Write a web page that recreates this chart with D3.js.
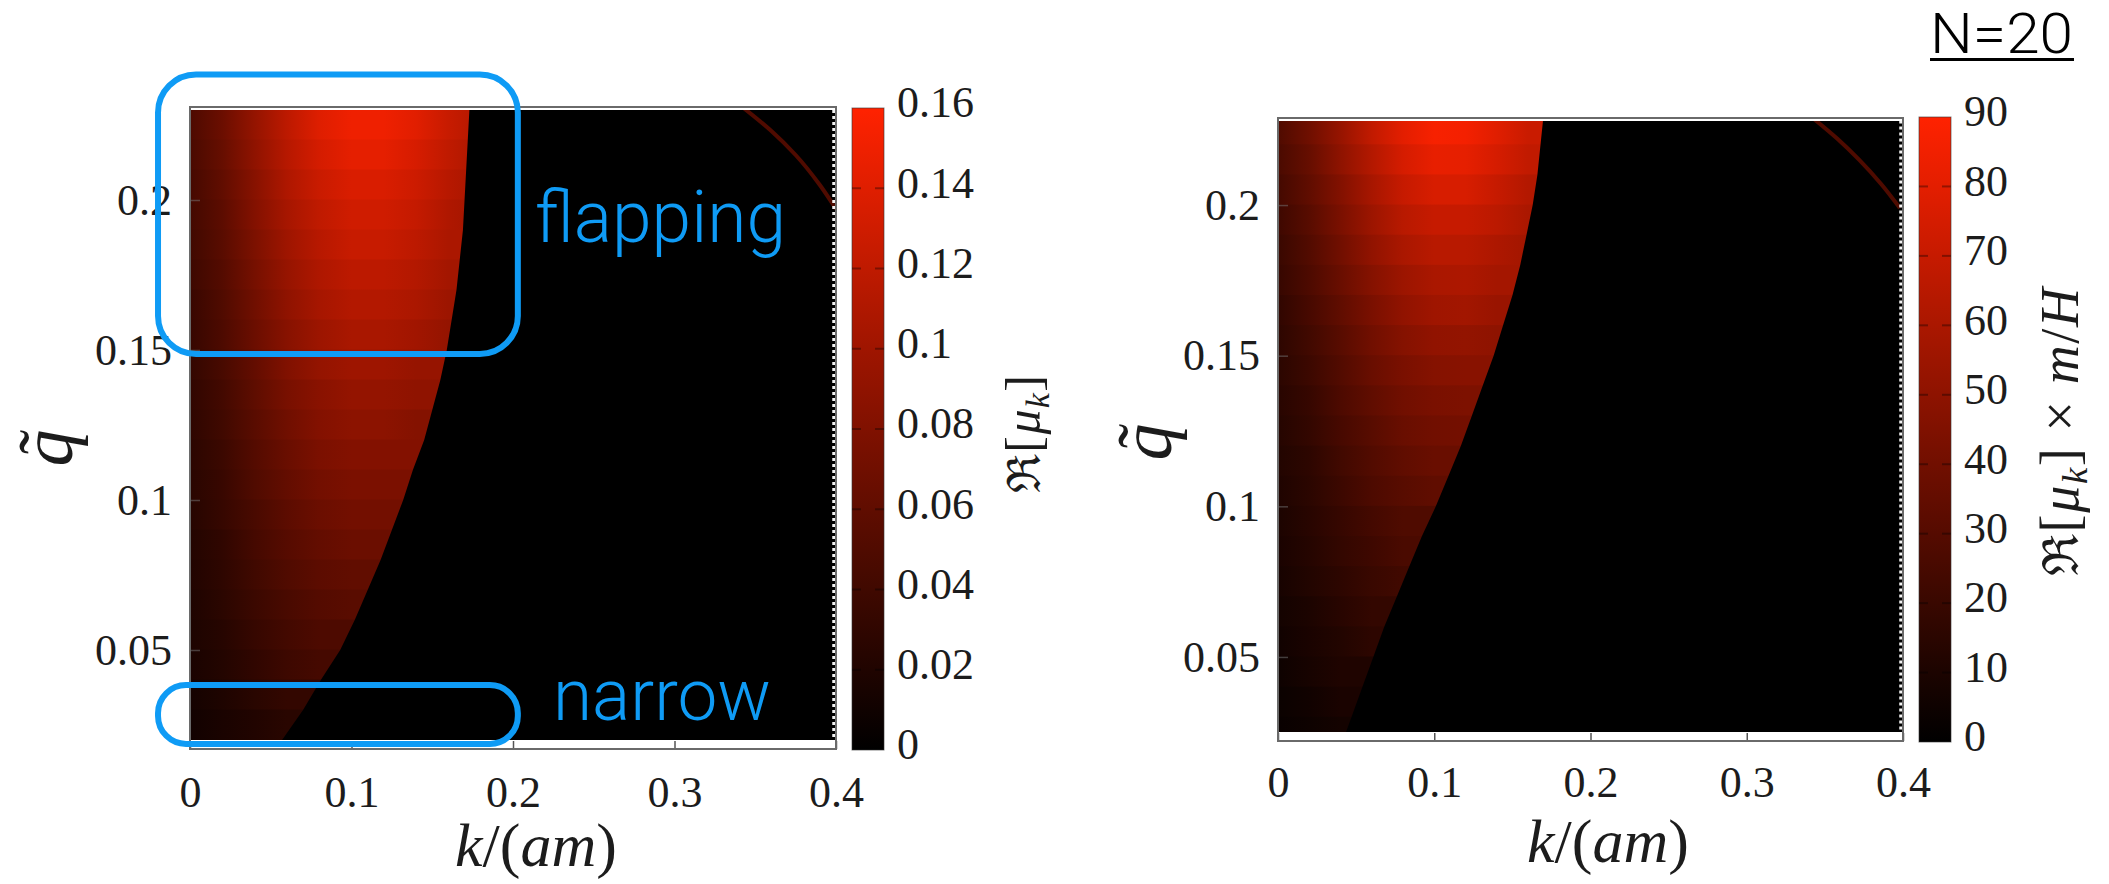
<!DOCTYPE html>
<html><head><meta charset="utf-8">
<script src="https://cdn.jsdelivr.net/npm/d3@7"></script>
<style>
html,body{margin:0;padding:0;background:#fff;}
svg{display:block;}
</style></head><body>
<svg id="chart" width="2109" height="884"></svg>
<script>
// ================= DATA =================
const kSamples = [0, 0.02, 0.04, 0.06, 0.08, 0.10, 0.12, 0.14, 0.16, 0.18];
const rowQ = [0.225,0.215,0.205,0.195,0.185,0.175,0.165,0.155,0.145,0.135,0.125,0.115,0.105,0.095,0.085,0.075,0.065,0.055,0.045,0.035,0.025];

// left panel: Re[mu_k], values at kSamples for each row (up to the edge)
const leftRows = [
  [.048,.067,.093,.118,.139,.150,.150,.141,.125,.112],
  [.046,.064,.090,.114,.133,.144,.144,.134,.120,.107],
  [.043,.061,.085,.109,.126,.136,.136,.128,.115,.104],
  [.042,.058,.082,.104,.120,.130,.130,.123,.110,.101],
  [.040,.056,.078,.099,.115,.125,.125,.118,.107],
  [.038,.053,.074,.094,.109,.118,.118,.112,.102],
  [.035,.050,.070,.090,.104,.112,.112,.107,.098],
  [.034,.048,.067,.085,.098,.106,.106,.101,.093],
  [.032,.045,.062,.080,.093,.099,.099,.094],
  [.030,.042,.059,.075,.086,.093,.093,.090],
  [.029,.040,.056,.070,.082,.088,.088,.083],
  [.027,.037,.053,.066,.077,.082,.082],
  [.026,.035,.050,.062,.072,.077,.077],
  [.024,.034,.046,.058,.067,.072,.072],
  [.022,.030,.043,.054,.062,.067],
  [.021,.029,.040,.050,.058,.061],
  [.019,.027,.037,.046,.053,.056],
  [.018,.024,.034,.042,.048],
  [.016,.022,.030,.038,.043],
  [.013,.019,.026,.032],
  [.011,.016,.021,.026]
];
// right panel: Re[mu_k] x m/H
const rightRows = [
  [28,39,53,68,80,87,86,79,71],
  [26,36,50,63,75,82,81,75,68],
  [24,34,46,59,70,76,76,70,63],
  [22,31,43,55,65,70,70,66,60],
  [20,29,40,51,60,65,65,61,57],
  [19,27,37,47,55,60,61,58],
  [17,25,34,43,51,56,57,54],
  [16,23,31,40,47,51,52,50],
  [15,21,29,37,43,47,48],
  [14,19,27,34,40,43,44],
  [13,18,25,31,37,40,41],
  [12,16,23,29,34,37],
  [11,15,21,27,31,34],
  [10,14,19,24,28],
  [9,13,18,22,26],
  [8,12,16,20,23],
  [7,10,14,18],
  [6,9,12,16],
  [5,8,11],
  [4,6,9],
  [3,5,7]
];
// boundary of the unstable region (k where the value drops to zero)
const edgeQ = [0.02,0.03,0.04,0.05,0.06,0.07,0.08,0.09,0.10,0.11,0.12,0.13,0.14,0.15,0.16,0.17,0.18,0.19,0.20,0.21,0.22,0.23];
const leftEdgeK  = [0.057,0.070,0.081,0.093,0.102,0.110,0.118,0.125,0.132,0.138,0.145,0.150,0.155,0.159,0.162,0.165,0.167,0.169,0.170,0.171,0.172,0.173];
const rightEdgeK = [0.040,0.047,0.054,0.061,0.068,0.076,0.084,0.092,0.101,0.109,0.117,0.124,0.131,0.138,0.144,0.150,0.155,0.159,0.163,0.166,0.168,0.170];
// faint second branch in the top-right corner
const leftBranchK  = [0.342,0.360,0.375,0.390,0.400];
const leftBranchQ  = [0.231,0.223,0.215,0.205,0.197];
const rightBranchK = [0.342,0.358,0.372,0.386,0.398];
const rightBranchQ = [0.229,0.222,0.215,0.207,0.199];
const leftBranchV = 0.05, rightBranchV = 28;

const xTicks = [0, 0.1, 0.2, 0.3, 0.4];
const yTicks = [0.05, 0.1, 0.15, 0.2];
const leftCbTicks  = [0, 0.02, 0.04, 0.06, 0.08, 0.1, 0.12, 0.14, 0.16];
const rightCbTicks = [0, 10, 20, 30, 40, 50, 60, 70, 80, 90];
const leftMax = 0.16, rightMax = 90;

// annotations (in data coordinates of the left panel)
const flapBox  = {k0:-0.0198, k1:0.203, q0:0.1487, q1:0.2418};
const narrowBox= {k0:-0.0198, k1:0.203, q0:0.0187, q1:0.0383};

// ================= DRAWING =================
const svg = d3.select("#chart");
const defs = svg.append("defs");
const SERIF = "'Liberation Serif', 'Times New Roman', serif";
const BLUE = "#0f9bf5";

function styleAxisText(sel){
  sel.attr("font-family", null).attr("font-size", null);
  sel.selectAll("text").style("font-family", SERIF).style("font-size", "44px").attr("fill", "#1c1c1c");
}

function panel(o){
  const g = svg.append("g");
  const x = d3.scaleLinear().domain([0, 0.4]).range([o.fx0, o.fx1]);
  const y = d3.scaleLinear().domain(o.qDomain).range([o.fy1, o.fy0]);
  const color = d3.scaleLinear().domain([0, o.vmax]).range(["#000000", "#ff2200"]).interpolate(d3.interpolateRgb);

  const clipId = o.id + "clip";
  defs.append("clipPath").attr("id", clipId).append("rect")
    .attr("x", x(0)).attr("y", y(o.dataQ[1]))
    .attr("width", x(0.4) - x(0)).attr("height", y(o.dataQ[0]) - y(o.dataQ[1]));
  const dg = g.append("g").attr("clip-path", `url(#${clipId})`);
  dg.append("rect").attr("x", x(0)).attr("y", y(0.25)).attr("width", x(0.4)-x(0)).attr("height", y(0)-y(0.25)).attr("fill", "#000");

  const half = Math.abs(rowQ[0] - rowQ[1]) / 2;
  rowQ.forEach((q, i) => {
    const vals = o.rows[i];
    const ks = kSamples.slice(0, vals.length);
    const gid = o.id + "row" + i;
    const x1 = x(ks[0]), x2 = x(ks[ks.length - 1]);
    const grad = defs.append("linearGradient").attr("id", gid)
      .attr("gradientUnits", "userSpaceOnUse")
      .attr("x1", x1).attr("x2", x2).attr("y1", 0).attr("y2", 0);
    vals.forEach((v, j) => {
      grad.append("stop").attr("offset", (x(ks[j]) - x1) / (x2 - x1)).attr("stop-color", color(v));
    });
    dg.append("rect").attr("x", x(0)).attr("y", y(q + half) - 0.5)
      .attr("width", x(0.4) - x(0)).attr("height", y(q - half) - y(q + half) + 1)
      .attr("fill", `url(#${gid})`);
  });

  // black area beyond the boundary
  const pts = edgeQ.map((q, i) => [x(o.edgeK[i]), y(q)]);
  const bot = [x(o.edgeK[0]), y(0)];
  const top = [x(o.edgeK[o.edgeK.length-1]), y(0.25)];
  const poly = [bot, ...pts, top, [x(0.42), y(0.25)], [x(0.42), y(0)]];
  dg.append("path").attr("d", "M" + poly.map(p => p.join(",")).join("L") + "Z").attr("fill", "#000");

  // faint branch
  dg.append("path")
    .attr("d", d3.line().curve(d3.curveMonotoneY)(o.branchK.map((k, i) => [x(k), y(o.branchQ[i])])))
    .attr("fill", "none").attr("stroke", color(o.branchV)).attr("stroke-width", 4);

  // jagged white right edge
  dg.append("line").attr("x1", x(0.4) - 2).attr("x2", x(0.4) - 2)
    .attr("y1", y(0.25)).attr("y2", y(0))
    .attr("stroke", "#f4f4f4").attr("stroke-width", 3.5).attr("stroke-dasharray", "3 3");

  // axes
  const xAxis = d3.axisBottom(x).tickValues(xTicks).tickSize(-8).tickPadding(o.xPad).tickFormat(d3.format("~g"));
  const xg = g.append("g").attr("transform", `translate(0,${o.fy1})`).call(xAxis);
  xg.select(".domain").remove();
  xg.selectAll("line").attr("stroke", "#555").attr("stroke-width", 1.5);
  styleAxisText(xg);

  const yAxis = d3.axisLeft(y).tickValues(yTicks).tickSize(-10).tickPadding(18).tickFormat(d3.format("~g"));
  const yg = g.append("g").attr("transform", `translate(${o.fx0},0)`).call(yAxis);
  yg.select(".domain").remove();
  yg.selectAll("line").attr("stroke", "#777").attr("stroke-opacity", 0.5).attr("stroke-width", 1.5);
  styleAxisText(yg);

  // frame
  g.append("rect").attr("x", o.fx0).attr("y", o.fy0).attr("width", o.fx1 - o.fx0).attr("height", o.fy1 - o.fy0)
    .attr("fill", "none").attr("stroke", "#6a6a6a").attr("stroke-width", 2);

  // colorbar
  const cbY = d3.scaleLinear().domain([0, o.vmax]).range([o.cbY1, o.cbY0]);
  const cgid = o.id + "cb";
  const cgr = defs.append("linearGradient").attr("id", cgid).attr("x1", 0).attr("x2", 0).attr("y1", 1).attr("y2", 0);
  o.cbTicks.forEach(t => cgr.append("stop").attr("offset", t / o.vmax).attr("stop-color", color(t)));
  g.append("rect").attr("x", o.cbX).attr("y", o.cbY0).attr("width", o.cbW).attr("height", o.cbY1 - o.cbY0)
    .attr("fill", `url(#${cgid})`).attr("stroke", "#333").attr("stroke-opacity", 0.6).attr("stroke-width", 1);
  o.cbTicks.slice(1, -1).forEach(t => {
    [[o.cbX, o.cbX + 9], [o.cbX + o.cbW - 9, o.cbX + o.cbW]].forEach(([a, b]) => {
      g.append("line").attr("x1", a).attr("x2", b).attr("y1", cbY(t)).attr("y2", cbY(t))
        .attr("stroke", "#000").attr("stroke-opacity", 0.35).attr("stroke-width", 2);
    });
  });
  const cbAxis = d3.axisRight(cbY).tickValues(o.cbTicks).tickSize(0).tickPadding(13).tickFormat(d3.format("~g"));
  const cbg = g.append("g").attr("transform", `translate(${o.cbX + o.cbW},0)`).call(cbAxis);
  cbg.select(".domain").remove();
  styleAxisText(cbg);
  cbg.selectAll("text").attr("dy", "0.2em");

  // colorbar label
  const t = g.append("text").attr("transform", `translate(${o.cbLabX},${o.cbLabY}) rotate(-90)`)
    .attr("text-anchor", "middle").style("font-family", SERIF).attr("font-size", o.cbLabSize).attr("fill", "#1c1c1c")
    .attr("textLength", o.cbLabLen).attr("lengthAdjust", "spacing");
  t.append("tspan").style("font-family", "'DejaVu Serif', serif").attr("font-size", o.cbLabSize * 0.92).text("ℜ");
  t.append("tspan").text("[");
  t.append("tspan").attr("font-style", "italic").text("μ");
  t.append("tspan").attr("font-style", "italic").attr("font-size", o.cbLabSize * 0.68).attr("dy", 9).text("k");
  t.append("tspan").attr("dy", -9).text("]");
  if (o.units) {
    t.append("tspan").text(" × ");
    t.append("tspan").attr("font-style", "italic").text("m");
    t.append("tspan").text("/");
    t.append("tspan").attr("font-style", "italic").text("H");
  }

  // x label
  const xl = g.append("text").attr("x", o.xLabX).attr("y", o.xLabY).attr("text-anchor", "middle")
    .style("font-family", SERIF).attr("font-size", 62).attr("fill", "#1c1c1c");
  xl.append("tspan").attr("font-style", "italic").text("k");
  xl.append("tspan").text("/(");
  xl.append("tspan").attr("font-style", "italic").text("am");
  xl.append("tspan").text(")");

  // y label q-tilde
  const yl = g.append("g").attr("transform", `translate(${o.yLabX},${o.yLabY}) rotate(-90)`)
    .style("font-family", SERIF).attr("fill", "#1c1c1c");
  yl.append("text").attr("text-anchor", "middle").attr("font-style", "italic").attr("font-size", 74).text("q");
  yl.append("text").attr("x", 6).attr("y", -2).attr("text-anchor", "middle").attr("font-size", 74).text("˜");

  return {x, y};
}

const L = panel({
  id: "L", fx0: 190, fx1: 836, fy0: 107, fy1: 749, qDomain: [0.017, 0.231], dataQ: [0.02, 0.23],
  rows: leftRows, edgeK: leftEdgeK, vmax: leftMax, branchK: leftBranchK, branchQ: leftBranchQ, branchV: leftBranchV,
  xPad: 27, cbX: 852, cbW: 32, cbY0: 108, cbY1: 750, cbTicks: leftCbTicks,
  cbLabX: 1040, cbLabY: 434, cbLabSize: 50, cbLabLen: 118, units: false, xLabX: 536, xLabY: 866, yLabX: 72, yLabY: 448
});
const R = panel({
  id: "R", fx0: 1278, fx1: 1903, fy0: 118, fy1: 741, qDomain: [0.0221, 0.2289], dataQ: [0.0251, 0.2279],
  rows: rightRows, edgeK: rightEdgeK, vmax: rightMax, branchK: rightBranchK, branchQ: rightBranchQ, branchV: rightBranchV,
  xPad: 25, cbX: 1919, cbW: 32, cbY0: 117, cbY1: 742, cbTicks: rightCbTicks,
  cbLabX: 2078, cbLabY: 432, cbLabSize: 54, cbLabLen: 288, units: true, xLabX: 1608, xLabY: 862, yLabX: 1171, yLabY: 442
});

// annotations
const LIGHT = "Roboto, 'Helvetica Neue', 'Open Sans', Arial, sans-serif";
[flapBox, narrowBox].forEach((b, i) => {
  const x0 = L.x(b.k0), x1 = L.x(b.k1), y0 = L.y(b.q1), y1 = L.y(b.q0);
  svg.append("rect").attr("x", x0).attr("y", y0).attr("width", x1 - x0).attr("height", y1 - y0)
    .attr("rx", i === 0 ? 38 : 28).attr("ry", i === 0 ? 38 : 28)
    .attr("fill", "none").attr("stroke", BLUE).attr("stroke-width", 6);
});
svg.append("text").attr("x", 535).attr("y", 242).style("font-family", LIGHT).attr("font-weight", 300)
  .attr("font-size", 72).attr("fill", BLUE).attr("textLength", 251).attr("lengthAdjust", "spacingAndGlyphs").text("flapping");
svg.append("text").attr("x", 553).attr("y", 720).style("font-family", LIGHT).attr("font-weight", 300)
  .attr("font-size", 72).attr("fill", BLUE).attr("textLength", 218).attr("lengthAdjust", "spacingAndGlyphs").text("narrow");

svg.append("text").attr("x", 1930).attr("y", 53).style("font-family", LIGHT).attr("font-weight", 300)
  .attr("font-size", 56).attr("fill", "#000").attr("textLength", 143).attr("lengthAdjust", "spacingAndGlyphs").text("N=20");
svg.append("line").attr("x1", 1930).attr("x2", 2074).attr("y1", 59.5).attr("y2", 59.5).attr("stroke", "#000").attr("stroke-width", 3);
</script>
</body></html>
